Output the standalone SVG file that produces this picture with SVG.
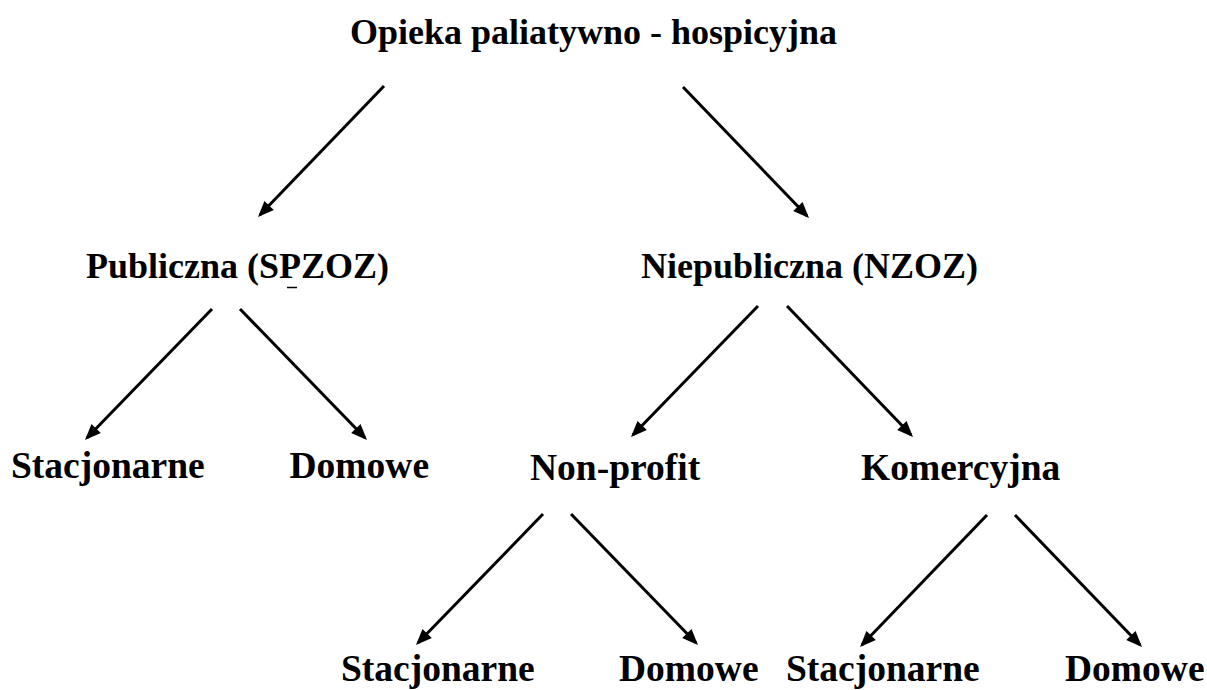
<svg xmlns="http://www.w3.org/2000/svg" width="1207" height="690" viewBox="0 0 1207 690">
<style>
  .lbl { font-family: "Liberation Serif", "Times New Roman", serif; font-weight: bold; font-size: 36px; fill: #000; }
  .big { font-size: 37.5px; }
  .conn line { stroke: #000; stroke-width: 3; marker-end: url(#arrow); }
</style>
<defs>
  <marker id="arrow" markerUnits="userSpaceOnUse" markerWidth="16" markerHeight="13" refX="13" refY="6.5" orient="auto" overflow="visible">
    <path d="M0,0 L16,6.5 L0,13 z" fill="#000"/>
  </marker>
</defs>
<rect width="1207" height="690" fill="#fff"/>
<g id="connectors" class="conn">
  <line x1="384" y1="86" x2="260.1" y2="214.8"/>
  <line x1="683" y1="87" x2="806.9" y2="215.8"/>
  <line x1="212" y1="309" x2="87.1" y2="437.8"/>
  <line x1="240" y1="309" x2="364.9" y2="437.8"/>
  <line x1="758" y1="306" x2="633.1" y2="434.8"/>
  <line x1="787" y1="306" x2="910.9" y2="434.8"/>
  <line x1="543" y1="514" x2="418.1" y2="642.8"/>
  <line x1="571" y1="514" x2="695.9" y2="642.8"/>
  <line x1="987" y1="515" x2="862.1" y2="644.8"/>
  <line x1="1015" y1="515" x2="1139.9" y2="644.8"/>
</g>
<g id="root"><text class="lbl" x="350" y="44">Opieka paliatywno - hospicyjna</text></g>
<g id="publiczna"><text class="lbl" x="86" y="278">Publiczna (SPZOZ)</text>
  <line x1="287" y1="287.5" x2="297" y2="287.5" stroke="#000" stroke-width="1.5"/></g>
<g id="niepubliczna"><text class="lbl" x="641" y="278">Niepubliczna (NZOZ)</text></g>
<g id="pub-stacjonarne"><text class="lbl big" x="11" y="478">Stacjonarne</text></g>
<g id="pub-domowe"><text class="lbl big" x="289.5" y="478">Domowe</text></g>
<g id="nonprofit"><text class="lbl big" x="530" y="480">Non-profit</text></g>
<g id="komercyjna"><text class="lbl big" x="861" y="480">Komercyjna</text></g>
<g id="np-stacjonarne"><text class="lbl big" x="341" y="681">Stacjonarne</text></g>
<g id="np-domowe"><text class="lbl big" x="619" y="681">Domowe</text></g>
<g id="k-stacjonarne"><text class="lbl big" x="786" y="681">Stacjonarne</text></g>
<g id="k-domowe"><text class="lbl big" x="1065" y="681">Domowe</text></g>
</svg>
